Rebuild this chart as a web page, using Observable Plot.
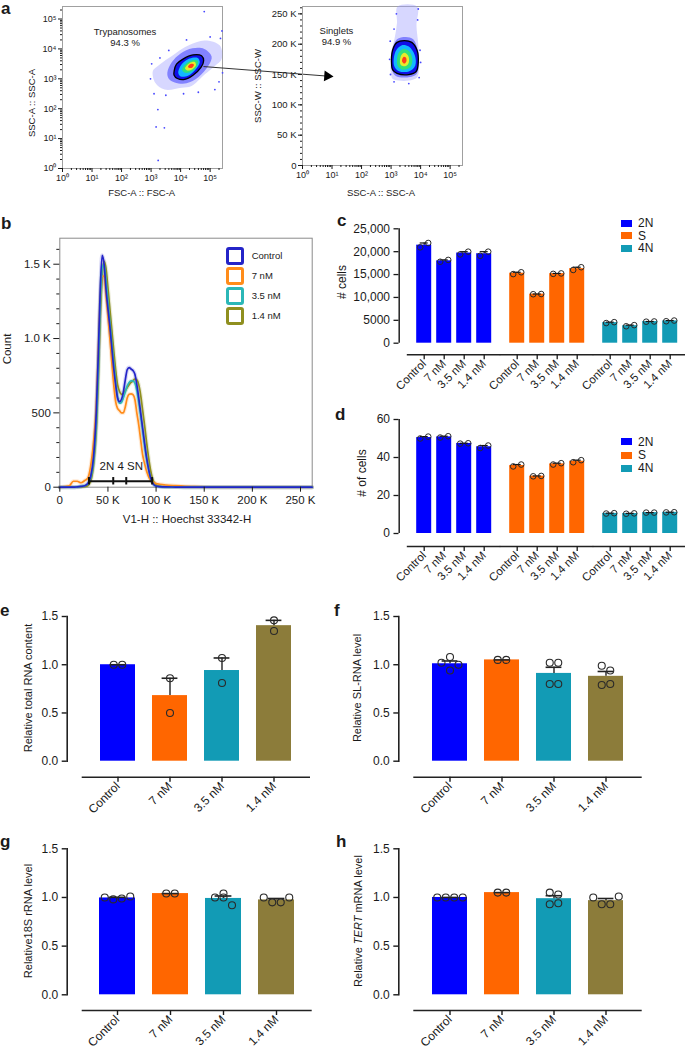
<!DOCTYPE html>
<html><head><meta charset="utf-8">
<script src="https://cdn.jsdelivr.net/npm/d3@7"></script>
<script src="https://cdn.jsdelivr.net/npm/@observablehq/plot@0.6"></script>
<style>
body{margin:0;background:#fff;}
#fig{position:relative;width:685px;height:1051px;overflow:hidden;background:#fff;font-family:"Liberation Sans",Arial,Helvetica,sans-serif;color:#1a1a1a;}
#fig svg{position:absolute;overflow:visible;}
.t{position:absolute;white-space:nowrap;line-height:1;}
.box{position:absolute;box-sizing:border-box;}
</style></head><body><div id="fig"></div><script>
// ---------------- DATA ----------------
const conditions = ["Control", "7 nM", "3.5 nM", "1.4 nM"];
const condColors = ["#0000ff", "#ff6600", "#129bb5", "#8c7c3a"];
const cycleGroups = ["2N", "S", "4N"];
const groupColors = ["#0000ff", "#ff6600", "#129bb5"];

// panel a: gates / density contours (log10 FSC-A, log10 SSC-A)
const trypCloud = [[3.06,3.26],[3.23,3.43],[3.80,3.83],[4.26,4.11],[4.82,4.28],[5.33,4.11],[5.39,3.66],[5.16,3.43],[4.82,3.15],[4.37,2.76],[4.03,2.70],[3.46,2.64],[3.14,2.87]];
const trypHalo = [[3.55,3.2],[3.7,3.55],[4.0,3.85],[4.4,4.02],[4.8,4.0],[5.05,3.75],[4.95,3.45],[4.6,3.05],[4.2,2.85],[3.8,2.88],[3.6,3.0]];
const trypGate = [[3.78,3.26],[3.86,3.49],[4.08,3.66],[4.42,3.80],[4.71,3.77],[4.78,3.60],[4.69,3.38],[4.42,3.12],[4.14,2.98],[3.89,3.01],[3.78,3.12]];
const trypCyan = [[3.92,3.2],[4.05,3.5],[4.3,3.68],[4.58,3.7],[4.65,3.55],[4.5,3.3],[4.25,3.1],[4.0,3.08]];
const trypGreen = [[4.05,3.3],[4.2,3.52],[4.42,3.63],[4.58,3.6],[4.55,3.42],[4.38,3.25],[4.15,3.2]];
const trypYellow = [[4.15,3.35],[4.3,3.52],[4.48,3.56],[4.52,3.45],[4.4,3.32],[4.22,3.28]];
const trypRed = [[4.25,3.4],[4.35,3.5],[4.45,3.48],[4.4,3.38],[4.3,3.36]];
const trypDots = [[3.24,0.27],[3.17,1.39],[3.45,1.36],[3.23,1.97],[4.8,5.25],[5.16,2.64],[5.35,4.35],[5.42,3.2],[5.3,2.9],[2.98,3.0],[3.02,3.5],[3.1,2.5],[3.5,2.45],[4.1,2.5],[4.6,2.55],[3.6,3.95],[4.2,4.3],[5.0,4.4],[5.4,4.6],[3.3,3.7]];
// singlets (log10 SSC-A, SSC-W in K)
const singCloud = [[3.0,150],[3.0,185],[3.12,210],[3.2,235],[3.22,262],[3.88,262],[3.86,230],[3.92,200],[3.95,165],[3.88,145],[3.6,140],[3.25,140],[3.05,143]];
const singHalo = [[3.02,160],[3.05,190],[3.2,208],[3.5,212],[3.75,208],[3.9,190],[3.93,165],[3.85,150],[3.5,145],[3.15,148]];
const singGate = [[3.02,165],[3.05,190],[3.2,203],[3.45,206],[3.7,203],[3.88,190],[3.92,170],[3.85,155],[3.6,150],[3.2,152],[3.05,158]];
const singCyan = [[3.1,165],[3.15,188],[3.35,198],[3.6,196],[3.8,182],[3.82,165],[3.6,155],[3.25,156]];
const singGreen = [[3.2,168],[3.25,185],[3.42,192],[3.62,188],[3.72,175],[3.65,162],[3.4,158],[3.25,162]];
const singYellow = [[3.3,170],[3.35,182],[3.45,186],[3.58,181],[3.6,170],[3.5,164],[3.35,165]];
const singRed = [[3.37,172],[3.42,179],[3.5,178],[3.52,172],[3.45,168]];
const singDots = [[2.95,175],[2.98,150],[3.1,138],[3.6,135],[3.95,145],[3.98,190],[3.9,240],[3.1,225],[3.18,250],[3.92,258],[2.97,205],[4.0,170]];
const gateArrow = [{x1: 4.775, y1: 3.41, x2: 8.97, y2: 3.09}];

// panel b: histograms (Hoechst in K, counts)
const hoechstK = [0,10,14,18,22,26,29,32,35,38,40,42,44,46,48,50,52,54,56,58,60,62,64,66,68,70,72,74,76,78,80,82,84,86,88,90,92,94,96,98,100,104,110,120,130,140,150,160,180,262];
const countControl = [0,0,0,2,5,10,25,70,200,520,900,1330,1560,1500,1330,1200,1080,940,800,690,600,575,590,640,720,790,805,795,785,760,690,600,500,400,300,205,130,70,35,15,8,4,2,1,0,0,0,0,0,0];
const count7nM = [0,10,40,40,30,45,60,140,300,560,900,1250,1420,1420,1290,1150,1000,840,690,575,530,515,500,500,540,600,625,628,622,590,500,420,320,220,160,110,75,50,38,30,25,20,15,10,6,4,2,0,0,0];
const count35nM = [0,0,0,2,5,10,20,60,170,440,800,1220,1470,1500,1390,1250,1110,970,840,710,610,565,570,600,640,680,705,715,715,700,650,570,480,380,280,195,125,70,35,15,8,4,2,1,0,0,0,0,0,0];
const count14nM = [0,0,0,0,2,5,10,40,150,400,740,1150,1420,1520,1470,1340,1200,1060,920,790,690,645,625,630,650,670,690,705,715,728,722,690,620,520,420,310,210,125,65,30,15,6,3,1,0,0,0,0,0,0];
const histNames = ["Control", "7 nM", "3.5 nM", "1.4 nM"];
const histColors = ["#2424c8", "#ff8c1a", "#2bb7b7", "#8f8f1f"];
const gateBarsK = [[30.3,55.5],[55.5,69],[69,95.9]];
const gateLabel = "2N 4 SN";

// panel c: # cells (replicates per condition)
const cells2N = [[20950,21900],[17800,18200],[19400,20000],[19100,20000]];
const cellsS = [[15100,15500],[10700,10750],[15150,15250],[16000,16600]];
const cells4N = [[4400,4600],[3700,3950],[4700,4750],[4800,4950]];
// panel d: % of cells
const pct2N = [[50,51],[50.5,51.2],[47.3,47.5],[45,46.3]];
const pctS = [[35.3,36.3],[30.1,30.3],[36.3,37],[37.5,38.6]];
const pct4N = [[10.5,10.7],[10.4,10.6],[11,11],[11.1,11.2]];
// panels e-h: replicates
const totalRNA = [[1.0,1.0],[0.86,0.5],[1.07,0.81],[1.46,1.35]];
const slRNA = [[1.02,1.08,0.94,1.0],[1.05,1.05],[1.02,1.02,0.8,0.8],[0.99,0.94,0.79,0.8]];
const rRNA18S = [[1.0,0.98,0.99,1.01],[1.04,1.04],[1.04,1.0,1.0,0.92],[1.0,0.95,0.95,1.0]];
const tertRNA = [[1.0,1.0,1.0,1.0],[1.05,1.05],[1.05,1.03,0.93,0.94],[1.0,0.93,0.93,1.01]];

// ---------------- HELPERS ----------------
const FONT = '"Liberation Sans", Arial, Helvetica, sans-serif';
const fig = document.getElementById("fig");
const style = (fs) => ({background: "transparent", overflow: "visible", fontFamily: FONT, fontSize: fs + "px", color: "#1a1a1a"});
function place(svg, left, top) { svg.style.left = left + "px"; svg.style.top = top + "px"; fig.appendChild(svg); }
function txt(s, x, cy, size, anchor = "start", bold = false, html = false) {
  const d = document.createElement("div"); d.className = "t";
  d.style.fontSize = size + "px"; if (bold) d.style.fontWeight = "bold";
  d.style.top = (cy - 0.49 * size) + "px"; d.style.left = x + "px";
  if (anchor === "middle") d.style.transform = "translateX(-50%)";
  if (anchor === "end") d.style.transform = "translateX(-100%)";
  if (html) d.innerHTML = s; else d.textContent = s;
  fig.appendChild(d);
}
function vtxt(s, cx, cy, size, html = false) {
  const d = document.createElement("div"); d.className = "t";
  d.style.fontSize = size + "px"; d.style.left = cx + "px"; d.style.top = cy + "px";
  d.style.transform = "translate(-50%,-50%) rotate(-90deg)";
  if (html) d.innerHTML = s; else d.textContent = s;
  fig.appendChild(d);
}
function letter(s, x, baseline) {
  const d = document.createElement("div"); d.className = "t";
  d.style.fontSize = "17px"; d.style.fontWeight = "bold";
  d.style.left = x + "px"; d.style.top = (baseline - 0.8465 * 17) + "px"; d.textContent = s;
  fig.appendChild(d);
}
function box(x, y, w, h, css) {
  const d = document.createElement("div"); d.className = "box";
  Object.assign(d.style, {left: x + "px", top: y + "px", width: w + "px", height: h + "px"}, css);
  fig.appendChild(d);
}
// horizontal spreading of replicate dots that overlap vertically (scatter-dot layout)
function rowOffsets(vals, thr, spacing) {
  const idx = vals.map((v, i) => i).sort((a, b) => vals[a] - vals[b]);
  const rows = []; let cur = null;
  for (const i of idx) { if (cur && vals[i] - vals[cur[0]] < thr) cur.push(i); else { cur = [i]; rows.push(cur); } }
  const off = new Array(vals.length);
  for (const r of rows) { r.sort((a, b) => a - b); r.forEach((i, j) => off[i] = (j - (r.length - 1) / 2) * spacing); }
  return off;
}
const sup = ["⁰","¹","²","³","⁴","⁵"];
const logFmt = d => "10" + sup[Math.round(Math.log10(d))];
const logMajor = [1, 10, 100, 1e3, 1e4, 1e5];
const logMinor = [];
for (let k = 0; k <= 5; k++) for (let m = 2; m <= 9; m++) { const v = m * 10 ** k; if (v <= 262144) logMinor.push(v); }
const L = v => 10 ** v;

// ---------------- PANEL a ----------------
function polyLog(pts, fill, op) {
  return Plot.line(pts, {x: d => L(d[0]), y: d => L(d[1]), curve: "catmull-rom-closed", fill, fillOpacity: op, stroke: "none"});
}
function polyLin(pts, fill, op) {
  return Plot.line(pts, {x: d => L(d[0]), y: d => d[1] * 1000, curve: "catmull-rom-closed", fill, fillOpacity: op, stroke: "none"});
}
const aLeft = Plot.plot({
  width: 340, height: 200, marginLeft: 62, marginRight: 118, marginTop: 6, marginBottom: 32,
  x: {type: "log", domain: [1, 262144]}, y: {type: "log", domain: [1, 262144]},
  style: style(9.5),
  marks: [
    Plot.frame({stroke: "#a0a0a0"}),
    polyLog(trypCloud, "#9a9aff", 0.4), polyLog(trypHalo, "#4a4aff", 0.6), polyLog(trypGate, "#1010e8", 1),
    polyLog(trypCyan, "#12b8ff", 1), polyLog(trypGreen, "#30e07c", 1), polyLog(trypYellow, "#e8ec2c", 1), polyLog(trypRed, "#ff3b1c", 1),
    Plot.dot(trypDots, {x: d => L(d[0]), y: d => L(d[1]), r: 0.9, fill: "#4646ff"}),
    Plot.line(trypGate, {x: d => L(d[0]), y: d => L(d[1]), curve: "catmull-rom-closed", stroke: "#000", strokeWidth: 1.3}),
    Plot.text(["Trypanosomes\n94.3 %"], {x: () => L(2.12), y: () => L(4.40), fontSize: 9.5, lineHeight: 1.1}),
    Plot.link(gateArrow, {x1: d => L(d.x1), y1: d => L(d.y1), x2: d => L(d.x2), y2: d => L(d.y2), stroke: "#333", strokeWidth: 1}),
    Plot.dot(gateArrow, {x: d => L(d.x2), y: d => L(d.y2), symbol: "triangle", r: 4, rotate: 94, fill: "#000", stroke: "none"}),
    Plot.axisX(logMajor, {tickSize: 4, tickPadding: 2, tickFormat: logFmt, label: null, fontSize: 9}),
    Plot.axisX(logMinor, {tickSize: 2, tickFormat: () => "", label: null}),
    Plot.axisY(logMajor, {tickSize: 4, tickPadding: 2, tickFormat: logFmt, label: null, fontSize: 9}),
    Plot.axisY(logMinor, {tickSize: 2, tickFormat: () => "", label: null})
  ]
});
place(aLeft, 0, 0);
const kFmt = d => d === 0 ? "0" : (d / 1000) + " K";
const aRight = Plot.plot({
  width: 240, height: 200, marginLeft: 62, marginRight: 18, marginTop: 6, marginBottom: 35,
  x: {type: "log", domain: [1, 262144]}, y: {domain: [0, 262144]},
  style: style(9.5),
  marks: [
    Plot.frame({stroke: "#a0a0a0"}),
    polyLin(singCloud, "#9a9aff", 0.4), polyLin(singHalo, "#4a4aff", 0.6), polyLin(singGate, "#1010e8", 1),
    polyLin(singCyan, "#12b8ff", 1), polyLin(singGreen, "#30e07c", 1), polyLin(singYellow, "#e8ec2c", 1), polyLin(singRed, "#ff3b1c", 1),
    Plot.dot(singDots, {x: d => L(d[0]), y: d => d[1] * 1000, r: 0.9, fill: "#4646ff"}),
    Plot.line(singGate, {x: d => L(d[0]), y: d => d[1] * 1000, curve: "catmull-rom-closed", stroke: "#000", strokeWidth: 1.3}),
    Plot.text(["Singlets\n94.9 %"], {x: () => L(1.15), y: () => 213000, fontSize: 9.5, lineHeight: 1.1}),
    Plot.axisX(logMajor, {tickSize: 4, tickPadding: 2, tickFormat: logFmt, label: null, fontSize: 9}),
    Plot.axisX(logMinor, {tickSize: 2, tickFormat: () => "", label: null}),
    Plot.axisY(d3.range(0, 250001, 50000), {tickSize: 4, tickPadding: 2, tickFormat: kFmt, label: null, fontSize: 9.5}),
    Plot.axisY(d3.range(0, 262144, 10000), {tickSize: 2, tickFormat: () => "", label: null})
  ]
});
place(aRight, 240, 0);
txt("FSC-A :: FSC-A", 141.7, 193, 9.5, "middle");
txt("SSC-A :: SSC-A", 381, 193, 9.5, "middle");
vtxt("SSC-A :: SSC-A", 31.7, 103, 9.5);
vtxt("SSC-W :: SSC-W", 258, 86, 9.5);

// ---------------- PANEL b ----------------
const histSeries = [["1.4 nM", count14nM], ["7 nM", count7nM], ["3.5 nM", count35nM], ["Control", countControl]];
const histRows = histSeries.flatMap(([name, c]) => hoechstK.map((k, i) => ({series: name, x: k * 1000, y: c[i]})));
const yFmtB = d => d === 0 ? "0" : d >= 1000 ? (d / 1000).toFixed(1) + " K" : String(d);
const bPlot = Plot.plot({
  width: 320, height: 330, marginLeft: 59.3, marginRight: 8.3, marginTop: 37.7, marginBottom: 43.3,
  x: {domain: [0, 262144]}, y: {domain: [0, 1675]},
  color: {domain: histNames, range: histColors},
  style: style(11.5),
  marks: [
    Plot.frame({stroke: "#8a8a8a"}),
    Plot.line(histRows, {x: "x", y: "y", z: "series", stroke: "series", strokeWidth: 4, strokeOpacity: 0.18, curve: "monotone-x"}),
    Plot.line(histRows, {x: "x", y: "y", z: "series", stroke: "series", strokeWidth: 1.7, curve: "monotone-x"}),
    Plot.ruleY(gateBarsK, {y: () => 40, x1: d => d[0] * 1000, x2: d => d[1] * 1000, stroke: "#111", strokeWidth: 2}),
    Plot.ruleX(gateBarsK.map(d => d[0]).concat([gateBarsK[2][1]]), {x: d => d * 1000, y1: () => 15, y2: () => 65, stroke: "#111", strokeWidth: 2}),
    Plot.text([gateLabel], {x: () => 63800, y: () => 139, fontSize: 11.5}),
    Plot.axisX(d3.range(0, 250001, 50000), {tickSize: 5, tickFormat: kFmt, label: null, fontSize: 11.5}),
    Plot.axisY([0, 500, 1000, 1500], {tickSize: 6, tickFormat: yFmtB, label: null, fontSize: 11.5}),
    Plot.axisY(d3.range(0, 1601, 100).filter(d => d % 500), {tickSize: 3, tickFormat: () => "", label: null})
  ]
});
place(bPlot, 0, 200);
vtxt("Count", 8.3, 349, 11.5);
txt("V1-H :: Hoechst 33342-H", 187, 520, 11.5, "middle");
histNames.forEach((n, i) => {
  const top = 246.7 + i * 20;
  box(226, top, 18, 18, {border: `3px solid ${histColors[i]}`, borderRadius: "3px"});
  txt(n, 251.7, top + 9, 9.5);
});

// ---------------- PANELS c, d ----------------
function cyclePanel(cfg) {
  const {reps, left, top, width, height, mL, mR, mT, mB, insetB, yMax, yTicks, yFmt, r, spacing} = cfg;
  const ppu = (height - mB - insetB - mT) / yMax;
  const thr = 2.4 * r / ppu;
  const bars = [], pts = [];
  cycleGroups.forEach((g, gi) => reps[gi].forEach((rr, ci) => {
    const mean = d3.mean(rr), sem = d3.deviation(rr) / Math.sqrt(rr.length);
    bars.push({group: g, cond: conditions[ci], mean, sem});
    const off = rowOffsets(rr, thr, spacing);
    rr.forEach((v, k) => pts.push({group: g, cond: conditions[ci], value: v, dx: off[k]}));
  }));
  const dotMarks = Array.from(d3.group(pts, d => d.dx), ([dx, arr]) =>
    Plot.dot(arr, {fx: "group", x: "cond", y: "value", dx, r, stroke: "#2a2a2a", strokeWidth: 1, fill: "none"}));
  const p = Plot.plot({
    width, height, marginLeft: mL, marginRight: mR, marginTop: mT, marginBottom: mB,
    fx: {domain: cycleGroups, axis: null, paddingInner: 0.09, paddingOuter: 0},
    x: {domain: conditions, padding: 0.25},
    y: {domain: [0, yMax], insetBottom: insetB},
    color: {domain: cycleGroups, range: groupColors},
    style: style(12),
    marks: [
      Plot.barY(bars, {fx: "group", x: "cond", y: "mean", fill: "group"}),
      Plot.ruleX(bars, {fx: "group", x: "cond", y1: "mean", y2: d => d.mean + d.sem, stroke: "#111", strokeWidth: 1.2}),
      Plot.tickY(bars, {fx: "group", x: "cond", y: d => d.mean + d.sem, stroke: "#111", strokeWidth: 1.2, inset: 3.5}),
      ...dotMarks,
      Plot.ruleY([0], {dy: insetB, insetLeft: -4.2, insetRight: -4.2, stroke: "#222", strokeWidth: 1.5}),
      Plot.ruleX([{group: "2N"}], {fx: "group", x: () => "Control", y1: () => 0, y2: () => yMax, dx: -25, stroke: "#222", strokeWidth: 1.5}),
      Plot.axisX({tickRotate: -45, tickSize: 5, tickPadding: 2, label: null, fontSize: 11.5, strokeWidth: 1.3}),
      Plot.axisY(yTicks, {tickFormat: yFmt, tickSize: 5, dx: -12.5, label: null, fontSize: 12, strokeWidth: 1.3})
    ]
  });
  place(p, left, top);
}
cyclePanel({reps: [cells2N, cellsS, cells4N], left: 330, top: 200, width: 355, height: 195, mL: 80.8, mR: 2.5, mT: 28.3, mB: 40.7, insetB: 11.6,
  yMax: 25000, yTicks: [0, 5000, 10000, 15000, 20000, 25000], yFmt: d => d >= 10000 ? d3.format(",")(d) : String(d), r: 2.8, spacing: 8});
cyclePanel({reps: [pct2N, pctS, pct4N], left: 330, top: 400, width: 355, height: 195, mL: 80.8, mR: 2.5, mT: 19, mB: 49, insetB: 13,
  yMax: 60, yTicks: [0, 20, 40, 60], yFmt: d => String(d), r: 2.8, spacing: 8});
vtxt("# cells", 341.5, 282, 12);
vtxt("# of cells", 362, 473, 12);
function cycleLegend(ys) {
  cycleGroups.forEach((g, i) => {
    box(621, ys[i] - 3.5, 10.5, 7, {background: groupColors[i]});
    txt(g, 638, ys[i], 12);
  });
}
cycleLegend([223, 235.5, 248.3]);
cycleLegend([441.7, 455, 468.3]);

// ---------------- PANELS e-h ----------------
function rnaPanel(cfg) {
  const {reps, left, top, width, height, mL, mR, mT, mB, insetB} = cfg;
  const r = 3.5, spacing = 8.5;
  const ppu = (height - mB - insetB - mT) / 1.5;
  const thr = 8.5 / ppu;
  const bars = [], pts = [];
  reps.forEach((rr, ci) => {
    const mean = d3.mean(rr), sem = d3.deviation(rr) / Math.sqrt(rr.length);
    bars.push({cond: conditions[ci], mean, sem});
    const off = rowOffsets(rr, thr, spacing);
    rr.forEach((v, k) => pts.push({cond: conditions[ci], value: v, dx: off[k]}));
  });
  const dotMarks = Array.from(d3.group(pts, d => d.dx), ([dx, arr]) =>
    Plot.dot(arr, {x: "cond", y: "value", dx, r, stroke: "#2a2a2a", strokeWidth: 1.1, fill: "none"}));
  const p = Plot.plot({
    width, height, marginLeft: mL, marginRight: mR, marginTop: mT, marginBottom: mB,
    x: {domain: conditions, padding: 0.32, insetLeft: 15},
    y: {domain: [0, 1.5], insetBottom: insetB},
    color: {domain: conditions, range: condColors},
    style: style(12),
    marks: [
      Plot.barY(bars, {x: "cond", y: "mean", fill: "cond"}),
      Plot.ruleX(bars, {x: "cond", y1: "mean", y2: d => d.mean + d.sem, stroke: "#222", strokeWidth: 1.4}),
      Plot.tickY(bars, {x: "cond", y: d => d.mean + d.sem, stroke: "#222", strokeWidth: 1.6, inset: 9.6}),
      ...dotMarks,
      Plot.ruleY([0], {dy: insetB, insetLeft: 15, stroke: "#222", strokeWidth: 1.6}),
      Plot.frame({anchor: "left", insetBottom: insetB, stroke: "#222", strokeWidth: 1.6}),
      Plot.axisX({tickRotate: -45, tickSize: 5, tickPadding: 2, label: null, fontSize: 12, strokeWidth: 1.4}),
      Plot.axisY([0, 0.5, 1, 1.5], {tickFormat: d3.format(".1f"), tickSize: 5, label: null, fontSize: 12, strokeWidth: 1.4})
    ]
  });
  place(p, left, top);
}
rnaPanel({reps: totalRNA, left: 0, top: 600, width: 330, height: 230, mL: 66.7, mR: 20, mT: 16, mB: 53.3, insetB: 16});
rnaPanel({reps: slRNA, left: 340, top: 600, width: 310, height: 230, mL: 58.3, mR: 8.3, mT: 16, mB: 53.3, insetB: 16});
rnaPanel({reps: rRNA18S, left: 0, top: 830, width: 330, height: 221, mL: 66.7, mR: 18.3, mT: 18.3, mB: 41, insetB: 15.7});
rnaPanel({reps: tertRNA, left: 340, top: 830, width: 310, height: 221, mL: 58.3, mR: 8.3, mT: 18.3, mB: 41, insetB: 15.7});
vtxt("Relative total RNA content", 28.3, 688, 11);
vtxt("Relative SL-RNA level", 356.7, 688, 11);
vtxt("Relative18S rRNA level", 28.3, 921, 11);
vtxt("Relative <i>TERT</i> mRNA level", 358.3, 921, 11, true);

// ---------------- panel letters ----------------
letter("a", 1, 14); letter("b", 1, 229); letter("c", 337, 226.7); letter("d", 335, 420.7);
letter("e", 0, 616); letter("f", 334, 616); letter("g", 0, 847); letter("h", 336, 847);
</script></body></html>
